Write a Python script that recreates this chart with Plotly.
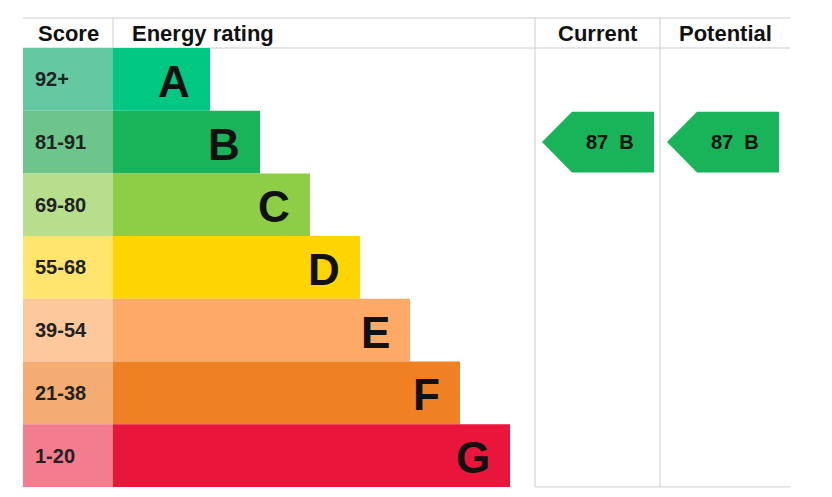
import plotly.graph_objects as go

bands = ["A", "B", "C", "D", "E", "F", "G"]
score_labels = ["92+", "81-91", "69-80", "55-68", "39-54", "21-38", "1-20"]
band_colors = ["#00c781", "#19b459", "#8dce46", "#ffd500", "#fcaa65", "#ef8023", "#e9153b"]
score_colors = ["#64c9a2", "#6dc58c", "#b6de8d", "#ffe46e", "#fdc89c", "#f4ac72", "#f37c8f"]
bar_lengths = [97, 147, 197, 247, 297, 347, 397]
current_value, current_band = 87, "B"
potential_value, potential_band = 87, "B"

top, head_h, row_h = 18, 30, 62.7
x0, xs, xc, xp, xe = 23, 113, 535, 660, 790
centers = [top + head_h + row_h * (i + 0.5) for i in range(len(bands))]

fig = go.Figure()
fig.add_trace(go.Bar(y=centers, x=[xs - x0] * 7, base=x0, orientation="h", width=row_h,
                     marker=dict(color=score_colors, line=dict(width=0)), hoverinfo="skip"))
fig.add_trace(go.Bar(y=centers, x=bar_lengths, base=xs, orientation="h", width=row_h,
                     marker=dict(color=band_colors, line=dict(width=0)), hoverinfo="skip"))
for i, c in enumerate(centers):
    fig.add_annotation(x=x0 + 10, y=c, text=f"<b>{score_labels[i]}</b>", showarrow=False, xanchor="left",
                       font=dict(family="Liberation Sans", size=20, color="#222"))
    fig.add_annotation(x=xs + bar_lengths[i] - 18, y=c + 2, text=f"<b>{bands[i]}</b>", showarrow=False,
                       xanchor="right", font=dict(family="Liberation Sans", size=44, color="#111"))

def arrow(xl, xr, band, value):
    i = bands.index(band)
    c = centers[i]; h = row_h / 2 - 1
    xs_ = [xl, xl + 30, xr, xr, xl + 30, xl]
    ys_ = [c, c - h, c - h, c + h, c + h, c]
    fig.add_trace(go.Scatter(x=xs_, y=ys_, fill="toself", fillcolor=band_colors[i], mode="lines",
                             line=dict(width=0), hoverinfo="skip"))
    fig.add_annotation(x=(xl + 24 + xr) / 2, y=c, text=f"<b>{value}  {band}</b>", showarrow=False,
                       font=dict(family="Liberation Sans", size=20, color="#111"))

arrow(xc + 7, xp - 6, current_band, current_value)
arrow(xp + 7, xe - 11, potential_band, potential_value)

bottom = top + head_h + row_h * 7
lc = "#cccccc"
shapes = [
    dict(type="line", x0=x0, x1=xe, y0=top, y1=top),
    dict(type="line", x0=x0, x1=xe, y0=top + head_h, y1=top + head_h),
    dict(type="line", x0=xc, x1=xe, y0=bottom, y1=bottom),
    dict(type="line", x0=xs, x1=xs, y0=top, y1=top + head_h),
    dict(type="line", x0=xc, x1=xc, y0=top, y1=bottom),
    dict(type="line", x0=xp, x1=xp, y0=top, y1=bottom),
]
for s in shapes:
    s.update(xref="x", yref="y", line=dict(color=lc, width=1), layer="below")
fig.update_layout(shapes=shapes)

hy = top + head_h / 2
for x, t in [((x0 + xs) / 2, "Score"), (xs + 17, "Energy rating"), ((xc + xp) / 2, "Current"), ((xp + xe) / 2, "Potential")]:
    fig.add_annotation(x=x, y=hy, text=f"<b>{t}</b>", showarrow=False,
                       xanchor="left" if t == "Energy rating" else "center",
                       font=dict(family="Liberation Sans", size=22, color="#111"))

fig.update_layout(width=832, height=497, margin=dict(l=0, r=0, t=0, b=0),
                  plot_bgcolor="white", paper_bgcolor="white", showlegend=False, barmode="overlay",
                  xaxis=dict(range=[8, 840], visible=False, fixedrange=True),
                  yaxis=dict(range=[505, 8], visible=False, fixedrange=True))
fig.write_html("out.html")
